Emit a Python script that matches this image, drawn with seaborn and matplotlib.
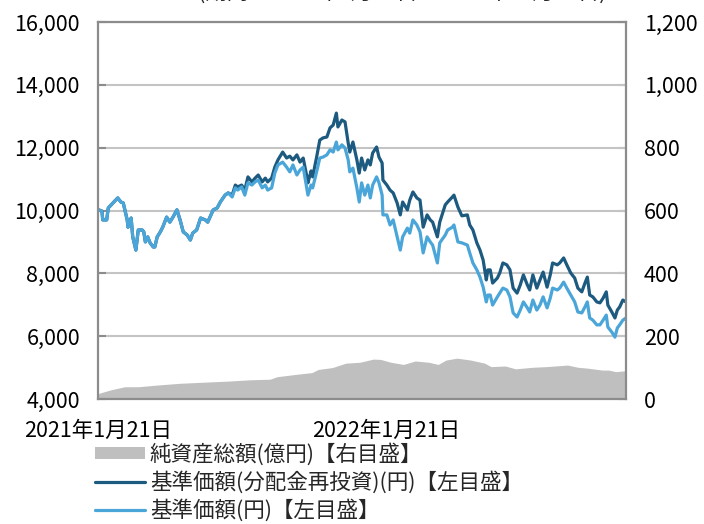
import matplotlib
matplotlib.use("Agg")
import matplotlib.pyplot as plt
from matplotlib.lines import Line2D
from matplotlib.patches import Patch
import pandas as pd
import seaborn as sns

START = pd.Timestamp("2021-01-21")
END_DAY = 669  # 2022-11-21

# days since 2021-01-21
nav_days = [
    0, 1, 5, 6, 11, 13, 19, 25, 29, 32,
    37, 38, 42, 44, 48, 51, 56, 58, 60, 63,
    66, 70, 72, 75, 79, 82, 87, 91, 95, 100,
    104, 108, 113, 117, 120, 125, 130, 136, 139, 146,
    151, 155, 161, 165, 170, 174, 177, 182, 186, 190,
    195, 199, 203, 208, 212, 215, 220, 224, 228, 234,
    239, 243, 247, 252, 256, 260, 265, 266, 270, 272,
    277, 281, 285, 290, 294, 298, 302, 304, 309, 313,
    317, 319, 323, 328, 331, 334, 338, 342, 345, 348,
    353, 356, 360, 361, 366, 370, 374, 379, 383, 386,
    392, 395, 399, 404, 408, 412, 417, 421, 424, 430,
    433, 440, 443, 449, 451, 456, 461, 468, 471, 475,
    480, 484, 488, 492, 494, 497, 500, 506, 509, 513,
    518, 522, 526, 531, 535, 539, 544, 547, 551, 556,
    560, 564, 569, 573, 576, 582, 585, 590, 594, 599,
    604, 608, 613, 617, 620, 623, 627, 632, 636, 640,
    644, 646, 651, 655, 658, 661, 665, 669,
]

# 基準価額(円)
nav_price = [
    10000, 10020, 9980, 9700, 9700, 10080, 10240, 10400, 10270, 10240,
    9700, 9470, 9760, 9160, 8740, 9380, 9380, 9320, 9000, 9160,
    8970, 8840, 8840, 9160, 9320, 9470, 9790, 9630, 9790, 10020,
    9700, 9320, 9220, 9060, 9280, 9380, 9760, 9700, 9630, 10020,
    10080, 10270, 10490, 10560, 10430, 10720, 10650, 10750, 10490, 10880,
    10810, 10910, 10970, 10720, 10810, 10650, 10720, 11190, 11450, 11540,
    11380, 11230, 11450, 11130, 11290, 11380, 10650, 10490, 10810, 10720,
    11230, 11670, 11700, 11770, 11930, 11860, 12180, 11930, 12090, 11990,
    11610, 11230, 11350, 10720, 10270, 10880, 10490, 10810, 10400, 10810,
    11070, 10880, 10490, 9860, 9860, 9540, 9700, 9160, 8740, 9160,
    9440, 9280, 9700, 9540, 9320, 8650, 9160, 9000, 8900, 8330,
    8970, 9220, 9380, 9470, 9540, 9000, 8970, 8900, 8650, 8330,
    8110, 7880, 7560, 7090, 7310, 7310, 6990, 7250, 7370, 7530,
    7470, 7250, 6740, 6610, 6830, 7090, 6900, 6770, 7150, 6830,
    6990, 7250, 6900, 7210, 7530, 7470, 7530, 7720, 7530, 7310,
    7090, 6770, 6740, 6930, 7090, 6580, 6510, 6360, 6360, 6510,
    6670, 6290, 6130, 5970, 6260, 6360, 6510, 6580,
]

# 基準価額(分配金再投資)(円)
nav_reinvest = [
    10000, 10020, 9980, 9700, 9700, 10080, 10240, 10400, 10270, 10240,
    9700, 9470, 9760, 9160, 8740, 9380, 9380, 9320, 9000, 9160,
    8970, 8840, 8840, 9160, 9320, 9470, 9790, 9630, 9790, 10020,
    9700, 9320, 9220, 9060, 9280, 9380, 9760, 9700, 9630, 10020,
    10080, 10270, 10490, 10560, 10490, 10810, 10750, 10810, 10650, 11070,
    10910, 11030, 11130, 10910, 11030, 10910, 11030, 11380, 11610, 11860,
    11670, 11730, 11610, 11770, 11540, 11670, 11030, 10880, 11260, 11070,
    11700, 12240, 12310, 12340, 12630, 12720, 13100, 12660, 12880, 12820,
    12150, 11860, 12180, 11610, 11190, 11670, 11290, 11610, 11450, 11830,
    12020, 11700, 11510, 10970, 10810, 10650, 10560, 10240, 9860, 10270,
    10020, 10330, 10590, 10400, 10330, 9470, 9860, 9700, 9630, 9160,
    9630, 10180, 10270, 10430, 10490, 10110, 9830, 9860, 9540, 9380,
    8970, 8740, 8420, 7790, 8110, 8110, 7690, 7850, 8010, 8330,
    8270, 8110, 7530, 7370, 7630, 7950, 7630, 7470, 7950, 7530,
    7790, 8040, 7560, 7950, 8330, 8270, 8330, 8490, 8270, 8010,
    7850, 7530, 7410, 7690, 7880, 7310, 7250, 7090, 7060, 7210,
    7410, 6990, 6770, 6580, 6830, 6930, 7150, 7090,
]

# 純資産総額(億円)
asset_days = [
    0, 1, 16, 34, 51, 78, 104, 130, 165, 192,
    218, 227, 253, 271, 279, 297, 314, 332, 349, 358,
    371, 387, 402, 419, 431, 441, 455, 472, 490, 498,
    516, 529, 551, 568, 595, 608, 621, 639, 647, 656, 669,
]
asset_total = [
    10, 18, 29, 39, 39, 45, 50, 53, 57, 61,
    63, 71, 79, 84, 94, 100, 114, 117, 127, 126,
    117, 110, 121, 117, 110, 124, 130, 124, 114, 103,
    105, 96, 101, 103, 108, 101, 98, 92, 92, 87, 90,
]

left_ticks = [4000, 6000, 8000, 10000, 12000, 14000, 16000]
right_ticks = [0, 200, 400, 600, 800, 1000, 1200]
x_tick_days = [0, 365]
x_tick_labels = ["2021年1月21日", "2022年1月21日"]
legend_labels = [
    "純資産総額(億円)【右目盛】",
    "基準価額(分配金再投資)(円)【左目盛】",
    "基準価額(円)【左目盛】",
]
title = "(期間：2021年1月21日～2022年11月21日)"

DARK = "#1D5A80"
LIGHT = "#4AA5D9"
AREA = "#BFBFBF"
FRAME = "#8C8C8C"
GRID = "#C4C4C4"
FS = 15.5

sns.set_theme(style="white")
plt.rcParams["font.family"] = ["Noto Sans CJK JP", "DejaVu Sans"]

nav_df = pd.DataFrame({
    "date": START + pd.to_timedelta(nav_days, unit="D"),
    "price": nav_price,
    "reinvest": nav_reinvest,
})
asset_df = pd.DataFrame({
    "date": START + pd.to_timedelta(asset_days, unit="D"),
    "total": asset_total,
})

fig = plt.figure(figsize=(7.04, 5.24), dpi=100)
ax = fig.add_axes([98 / 704, 125 / 524, 528 / 704, 377 / 524])
ax2 = ax.twinx()

# area on the right scale, lines on the left scale above it
ax2.fill_between(asset_df["date"], asset_df["total"], color=AREA, lw=0)
sns.lineplot(data=nav_df, x="date", y="reinvest", ax=ax, color=DARK, lw=2.3)
sns.lineplot(data=nav_df, x="date", y="price", ax=ax, color=LIGHT, lw=2.3)
ax.set_zorder(ax2.get_zorder() + 1)
ax.patch.set_visible(False)

ax.set_xlim(START, START + pd.Timedelta(days=END_DAY))
ax.set_ylim(4000, 16000)
ax2.set_ylim(0, 1200)
ax.set_yticks(left_ticks)
ax.set_yticklabels([f"{v:,}" for v in left_ticks])
ax2.set_yticks(right_ticks)
ax2.set_yticklabels([f"{v:,}" for v in right_ticks])
ax.set_xticks(START + pd.to_timedelta(x_tick_days, unit="D"))
ax.set_xticklabels(x_tick_labels)
ax.set_xlabel("")
ax.set_ylabel("")
ax2.set_ylabel("")

ax.grid(axis="y", color=GRID, lw=1.5)
ax.grid(axis="x", visible=False)
ax2.grid(False)
for s in ax.spines.values():
    s.set_visible(True)
    s.set_color(FRAME)
    s.set_linewidth(1.6)
for s in ax2.spines.values():
    s.set_visible(False)

ax.tick_params(axis="y", direction="in", length=6, width=1.5, color=FRAME,
               pad=13, labelsize=FS, labelcolor="black")
ax.tick_params(axis="x", direction="in", length=5, width=1.5, color=FRAME,
               pad=15, labelsize=FS, labelcolor="black")
ax2.tick_params(axis="y", direction="in", length=6, width=1.5, color=FRAME,
                pad=13, labelsize=FS, labelcolor="black", right=True)

handles = [
    Patch(facecolor=AREA, edgecolor="none"),
    Line2D([], [], color=DARK, lw=2.3),
    Line2D([], [], color=LIGHT, lw=2.3),
]
fig.legend(handles, legend_labels, loc="upper left",
           bbox_to_anchor=(95 / 704, 1 - 443 / 524), frameon=False,
           fontsize=FS, handlelength=2.3, handleheight=0.5,
           handletextpad=0.25, labelspacing=0.25, borderpad=0, borderaxespad=0)

# period caption, mostly above the top edge as in the source image
fig.text(0.571, 1.015, title, ha="center", va="center", fontsize=FS)

fig.savefig("out.png", dpi=100)
plt.close(fig)
